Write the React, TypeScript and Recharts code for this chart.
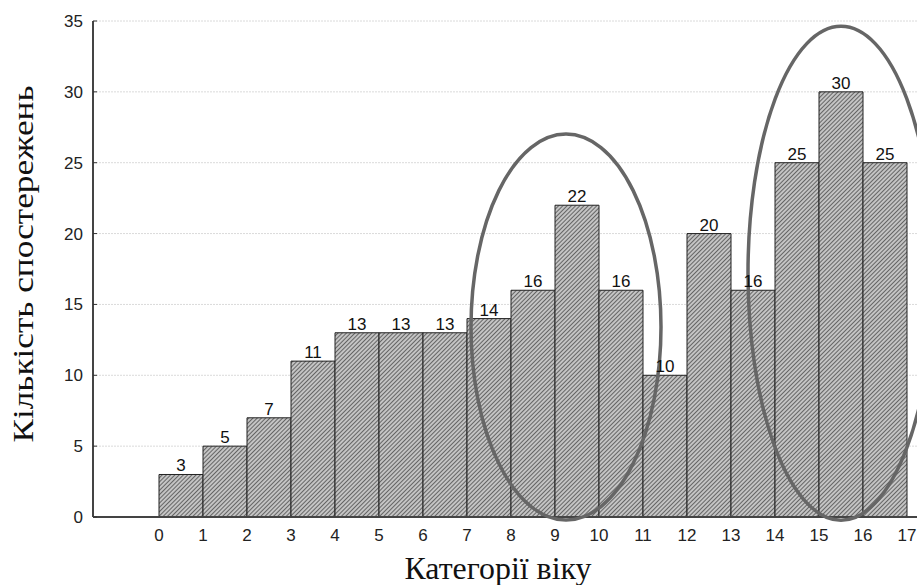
import React from 'react';
import { BarChart, Bar, XAxis, YAxis, CartesianGrid, LabelList, ReferenceDot } from 'recharts';

const categories = [0, 1, 2, 3, 4, 5, 6, 7, 8, 9, 10, 11, 12, 13, 14, 15, 16];
const counts = [3, 5, 7, 11, 13, 13, 13, 14, 16, 22, 16, 10, 20, 16, 25, 30, 25];
const xTicks = [0, 1, 2, 3, 4, 5, 6, 7, 8, 9, 10, 11, 12, 13, 14, 15, 16, 17];
const yTicks = [0, 5, 10, 15, 20, 25, 30, 35];
const topTicks = [0, 1, 2, 3, 4, 5, 6, 7, 8, 9, 10, 11, 12, 13, 14, 15, 16, 17, 18, 19, 20];
const ellipses = [
  { x: 9.25, y: 13.4, rx: 95, ry: 193 },
  { x: 15.5, y: 17.2, rx: 93, ry: 247 },
];
const xTitle = 'Категорії віку';
const yTitle = 'Кількість спостережень';

const data = categories.map((c, i) => ({ mid: c + 0.5, count: counts[i] }));

const sans = '"Liberation Sans", Arial, sans-serif';
const serif = '"Liberation Serif", "Times New Roman", serif';

const YTick = (props: any) => {
  const { x, y, payload } = props;
  return (
    <g>
      <line x1={x + 10} x2={x + 14} y1={y} y2={y} stroke="#333" strokeWidth={1} />
      <text x={x} y={y} dy={6} textAnchor="end" fontFamily={sans} fontSize={17} fill="#222">
        {payload.value}
      </text>
    </g>
  );
};

const XTick = (props: any) => {
  const { x, y, payload } = props;
  return (
    <text x={x} y={y} dy={12} textAnchor="middle" fontFamily={sans} fontSize={17} fill="#222">
      {payload.value}
    </text>
  );
};

const TopTick = (props: any) => {
  const { x, y } = props;
  return <line x1={x} x2={x} y1={y} y2={y + 4} stroke="#444" strokeWidth={1} />;
};

const XTitle = (props: any) => {
  const vb = props.viewBox || {};
  const cx = vb.x + 405;
  return (
    <text x={cx} y={579} textAnchor="middle" fontFamily={serif} fontSize={31} fill="#111" textLength={187} lengthAdjust="spacingAndGlyphs">
      {xTitle}
    </text>
  );
};

const YTitle = (props: any) => {
  const vb = props.viewBox || {};
  const cy = vb.y + vb.height / 2 - 5;
  return (
    <text x={33} y={cy} transform={`rotate(-90, 33, ${cy})`} textAnchor="middle" fontFamily={serif} fontSize={30} fill="#111" textLength={357} lengthAdjust="spacingAndGlyphs">
      {yTitle}
    </text>
  );
};

const EllipseShape = (rx: number, ry: number) => (props: any) => {
  const { cx, cy } = props;
  return <ellipse cx={cx} cy={cy} rx={rx} ry={ry} fill="none" stroke="#666" strokeWidth={3.5} />;
};

export default function App() {
  return (
    <div style={{ position: 'absolute', left: 0, top: 0, width: 917, height: 585, overflow: 'hidden', background: '#fff' }}>
      <BarChart
        width={973}
        height={585}
        data={data}
        margin={{ top: 21, right: 0, bottom: 0, left: 0 }}
        barCategoryGap={0}
        barGap={0}
      >
        <defs>
          <pattern id="hatch" patternUnits="userSpaceOnUse" width="3" height="3" patternTransform="rotate(45)">
            <rect width="3" height="3" fill="#c4c4c4" />
            <line x1="0" y1="0" x2="0" y2="3" stroke="#3c3c3c" strokeWidth="1.4" />
          </pattern>
        </defs>
        <CartesianGrid vertical={false} stroke="#dadada" strokeDasharray="2 1" />
        <XAxis
          dataKey="mid"
          type="number"
          domain={[-1.5, 18.5]}
          ticks={xTicks}
          interval={0}
          allowDataOverflow
          height={68}
          tickLine={false}
          axisLine={{ stroke: '#444', strokeWidth: 2 }}
          tick={<XTick />}
          tickMargin={6}
          label={<XTitle />}
        />
        <XAxis
          xAxisId="top"
          orientation="top"
          type="number"
          domain={[-0.5, 20.452]}
          ticks={topTicks}
          interval={0}
          height={0}
          tickSize={0}
          tickMargin={0}
          tickLine={false}
          axisLine={{ stroke: '#555', strokeWidth: 1.5 }}
          tick={<TopTick />}
        />
        <YAxis
          type="number"
          domain={[0, 35]}
          ticks={yTicks}
          interval={0}
          width={93}
          tickSize={0}
          tickMargin={10}
          tickLine={false}
          axisLine={{ stroke: '#444', strokeWidth: 2 }}
          tick={<YTick />}
          label={<YTitle />}
        />
        <Bar dataKey="count" fill="url(#hatch)" stroke="#222" strokeWidth={1} isAnimationActive={false}>
          <LabelList dataKey="count" position="top" offset={3} fontFamily={sans} fontSize={17} fill="#111" />
        </Bar>
        {ellipses.map((e, i) => (
          <ReferenceDot key={i} x={e.x} y={e.y} r={1} ifOverflow="visible" shape={EllipseShape(e.rx, e.ry)} />
        ))}
      </BarChart>
    </div>
  );
}
